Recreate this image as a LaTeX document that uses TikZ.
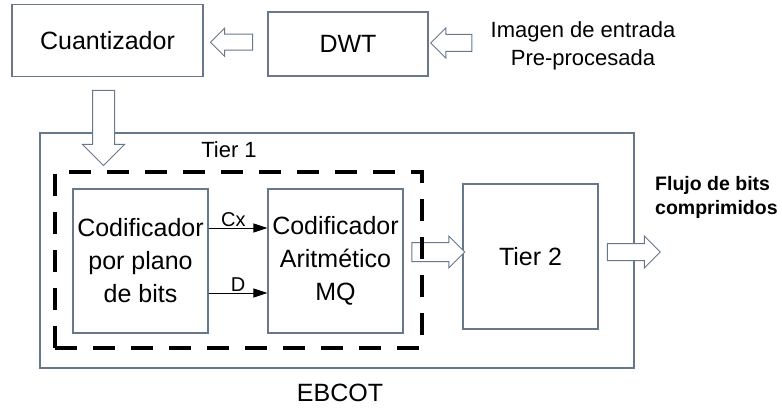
\documentclass[tikz,border=0pt]{standalone}
\usepackage{fontspec}
\setmainfont{Liberation Sans}
\usetikzlibrary{arrows.meta,positioning,calc,shapes.arrows}
\definecolor{Edge}{HTML}{66788A}

\begin{document}
\begin{tikzpicture}[
 x=1pt,y=-1pt,
 b/.style={draw=Edge,line width=1.1pt,fill=white,align=center,inner sep=0pt,font=\fontsize{25}{33}\selectfont},
 blk/.style={draw=Edge,line width=1pt,fill=white,single arrow,inner xsep=0pt,single arrow tip angle=90},
 a/.style={-{Triangle[length=14pt,width=9pt]},line width=0.9pt},
 lbl/.style={font=\fontsize{20}{24}\selectfont,inner sep=1pt}
]
\useasboundingbox (0,0) rectangle (782,409);
% top row
\node[b,minimum width=191pt,minimum height=72pt] (cuant) at (107.5,40.5) {Cuantizador};
\node[b,minimum width=160pt,minimum height=64pt] (dwt) at (348,44) {DWT};
\node[font=\fontsize{22}{28}\selectfont,align=center] (input) at (583,46) {Imagen de entrada\\Pre-procesada};
\node[blk,minimum height=42pt,inner ysep=7.5pt,single arrow head extend=6pt,shape border rotate=180] (q1) at ($(cuant.east)!0.5!(dwt.west)$) {};
\node[blk,minimum height=41pt,inner ysep=8pt,single arrow head extend=6.5pt,shape border rotate=180] (q2) at (455.5,43) {};
% EBCOT
\node[draw=Edge,line width=1.1pt,fill=white,minimum width=594pt,minimum height=235pt] (ebcot) at (337,250.5) {};
\node[font=\fontsize{25}{30}\selectfont] (ebcotlbl) at (340,393) {EBCOT};
\node[blk,minimum height=75pt,inner sep=10.5pt,single arrow head extend=10pt,shape border rotate=270] (q3) at (103.5,122.5) {};
\node[b,minimum width=135pt,minimum height=144pt] (cod) at (140.5,261) {Codificador\\por plano\\de bits};
\node[b,minimum width=135pt,minimum height=144pt] (mq) at (335.5,261) {Codificador\\Aritmético\\MQ};
\node[b,minimum width=135pt,minimum height=145pt] (tier2) at (530.5,256.5) {Tier 2};
\node[blk,minimum height=53pt,inner ysep=9pt,single arrow head extend=6.5pt] (q4) at (433.5,252) {};
\node[blk,minimum height=53pt,inner ysep=8pt,single arrow head extend=7.5pt] (q5) at (629.5,252) {};
% Tier 1
\node[draw=black,line width=4.5pt,dash pattern=on 22pt off 16pt,minimum width=367pt,minimum height=176pt] (tier1) at (238.5,260) {};
\node[font=\fontsize{22}{26}\selectfont] (tier1lbl) at (229,150) {Tier 1};
\draw[a] ([yshift=33pt]cod.east) -- node[lbl,above,pos=0.42] (cx) {Cx} ([yshift=33pt]mq.west);
\draw[a] ([yshift=-32pt]cod.east) -- node[lbl,above] (d) {D} ([yshift=-32pt]mq.west);
\node[font=\bfseries\fontsize{19.5}{24}\selectfont,align=left,anchor=west,inner sep=0pt] (flujo) at (655,197) {Flujo de bits\\comprimidos};
\end{tikzpicture}
\end{document}
